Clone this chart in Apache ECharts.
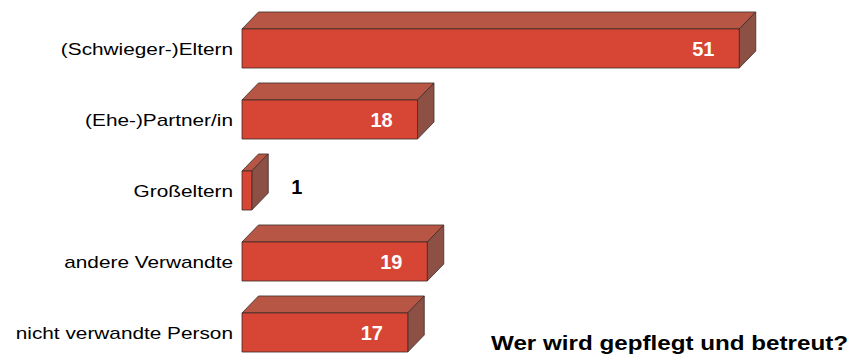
<!DOCTYPE html>
<html>
<head>
<meta charset="utf-8">
<script src="https://cdn.jsdelivr.net/npm/echarts@6/dist/echarts.min.js"></script>
<style>
  html, body { margin: 0; padding: 0; background: #ffffff; }
  #chart { width: 861px; height: 358px; }
</style>
</head>
<body>
<div id="chart"></div>
<script>
// Who receives care: number of persons per relationship group
const categories = ['(Schwieger-)Eltern', '(Ehe-)Partner/in', 'Großeltern', 'andere Verwandte', 'nicht verwandte Person'];
const values = [51, 18, 1, 19, 17];
const chartTitle = 'Wer wird gepflegt und betreut?';

// Block colours for the 3D bars
const FRONT = '#d74534';
const TOP = '#b75644';
const SIDE = '#8c5044';
const EDGE = '#3b2b28';
const DEPTH_X = 16.5;
const DEPTH_Y = 17;
const LABEL_FONT = '16px "Liberation Sans", Arial, sans-serif';
const VALUE_FONT = 'bold 20px "Liberation Sans", Arial, sans-serif';

function renderBar(params, api) {
  const val = api.value(0);
  const idx = api.value(1);
  const p0 = api.coord([0, idx]);
  const p1 = api.coord([val, idx]);
  const h = api.size([0, 1])[1] * 0.55;
  const x0 = p0[0], x1 = p1[0];
  const yt = p0[1] - h / 2, yb = p0[1] + h / 2;
  const edge = { stroke: EDGE, lineWidth: 0.8, lineJoin: 'round' };
  const inside = (x1 - x0) > 40;
  return {
    type: 'group',
    children: [
      {
        type: 'polygon',
        shape: { points: [[x0, yt], [x0 + DEPTH_X, yt - DEPTH_Y], [x1 + DEPTH_X, yt - DEPTH_Y], [x1, yt]] },
        style: Object.assign({ fill: TOP }, edge)
      },
      {
        type: 'polygon',
        shape: { points: [[x1, yt], [x1 + DEPTH_X, yt - DEPTH_Y], [x1 + DEPTH_X, yb - DEPTH_Y], [x1, yb]] },
        style: Object.assign({ fill: SIDE }, edge)
      },
      {
        type: 'rect',
        shape: { x: x0, y: yt, width: x1 - x0, height: h },
        style: Object.assign({ fill: FRONT }, edge)
      },
      {
        type: 'text',
        x: inside ? x1 - 36 : x1 + DEPTH_X + 23,
        y: inside ? p0[1] + 0.5 : p0[1] - 4,
        style: {
          text: String(val),
          fill: inside ? '#ffffff' : '#000000',
          font: VALUE_FONT,
          align: inside ? 'center' : 'left',
          verticalAlign: 'middle'
        }
      }
    ]
  };
}

const chart = echarts.init(document.getElementById('chart'), null, { renderer: 'svg' });

chart.setOption({
  animation: false,
  backgroundColor: '#ffffff',
  grid: { left: 242, width: 585, top: 13, height: 355, outerBoundsMode: 'none', containLabel: false },
  xAxis: { type: 'value', min: 0, max: 60, show: false },
  yAxis: {
    type: 'category',
    data: categories,
    inverse: true,
    axisLine: { show: false },
    axisTick: { show: false },
    axisLabel: { show: false },
    splitLine: { show: false }
  },
  series: [{
    type: 'custom',
    renderItem: renderBar,
    encode: { x: 0, y: 1 },
    data: values.map((v, i) => [v, i])
  }]
});

// Category names and the caption, set in a widened sans face
const texts = categories.map((name, i) => ({
  type: 'text',
  x: 233,
  y: chart.convertToPixel({ yAxisIndex: 0 }, i) + 1,
  scaleX: 1.3,
  style: { text: name, font: LABEL_FONT, fill: '#000000', align: 'right', verticalAlign: 'middle' }
}));
texts.push({
  type: 'text',
  x: 491,
  y: 343,
  scaleX: 1.21,
  style: { text: chartTitle, font: 'bold 20px "Liberation Sans", Arial, sans-serif', fill: '#000000', align: 'left', verticalAlign: 'middle' }
});
chart.setOption({ graphic: texts });
</script>
</body>
</html>
